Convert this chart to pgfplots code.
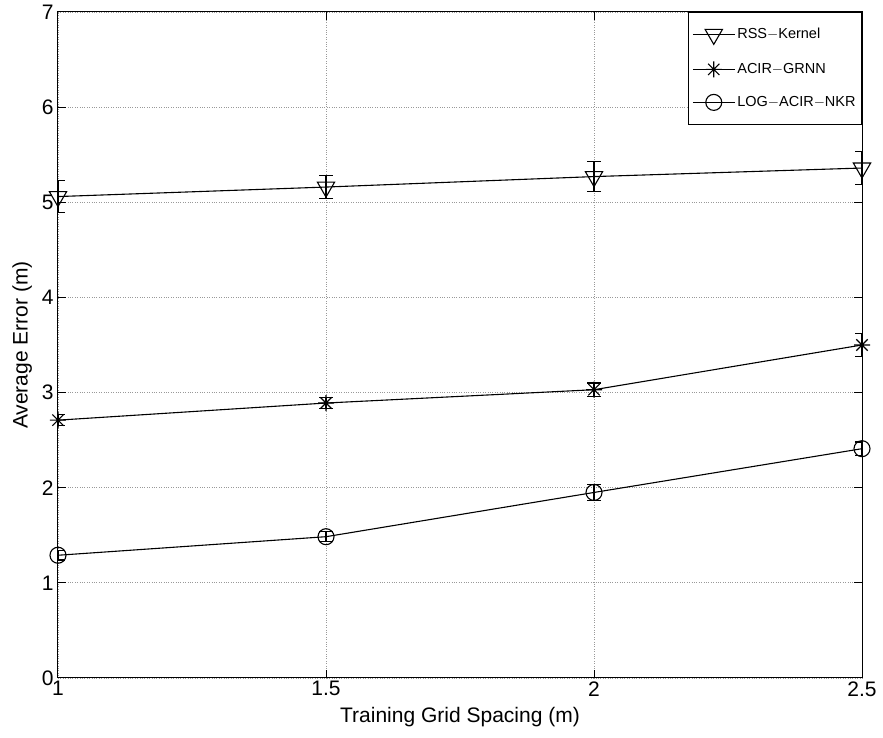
\documentclass[border=0pt]{standalone}
\usepackage{pgfplots}
\pgfplotsset{compat=1.18}
\usepackage{fontspec}
\setmainfont{Liberation Sans}
\pgfdeclareplotmark{mstar}{%
  \pgfpathmoveto{\pgfqpoint{-\pgfplotmarksize}{0pt}}\pgfpathlineto{\pgfqpoint{\pgfplotmarksize}{0pt}}%
  \pgfpathmoveto{\pgfqpoint{0pt}{-\pgfplotmarksize}}\pgfpathlineto{\pgfqpoint{0pt}{\pgfplotmarksize}}%
  \pgfpathmoveto{\pgfqpoint{-0.707\pgfplotmarksize}{-0.707\pgfplotmarksize}}\pgfpathlineto{\pgfqpoint{0.707\pgfplotmarksize}{0.707\pgfplotmarksize}}%
  \pgfpathmoveto{\pgfqpoint{-0.707\pgfplotmarksize}{0.707\pgfplotmarksize}}\pgfpathlineto{\pgfqpoint{0.707\pgfplotmarksize}{-0.707\pgfplotmarksize}}%
  \pgfusepathqstroke}
\begin{document}
\begin{tikzpicture}
\begin{axis}[
  name=ax,
  scale only axis,
  width=804pt, height=666pt,
  xmin=1, xmax=2.5, ymin=0, ymax=7,
  xtick={1,1.5,2,2.5}, ytick={0,1,...,7},
  /pgf/number format/assume math mode=true,
  tick label style={font=\fontsize{21}{24}\selectfont},
  yticklabel style={xshift=-1pt},
  label style={font=\fontsize{21}{24}\selectfont},
  xlabel={Training Grid Spacing (m)},
  ylabel={Average Error (m)},
  xlabel style={yshift=-4pt},
  ylabel style={yshift=3pt},
  grid=major,
  major grid style={dotted, gray!80, line width=0.8pt},
  tick align=inside, tick pos=both,
  major tick length=8pt,
  axis line style={line width=1pt},
  tick style={line width=1pt, black},
  legend style={at={(1,1)}, anchor=north east, font=\fontsize{14.5}{17}\selectfont,
    draw=black, line width=0.8pt, row sep=17pt, inner xsep=4pt, inner ysep=14pt},
  legend cell align=left,
  legend image code/.code={%
    \draw[mark repeat=2,mark phase=2] plot coordinates {(0pt,0pt) (21pt,0pt) (42pt,0pt)};},
  error bars/error bar style={line width=1.1pt},
  error bars/error mark options={rotate=90, mark size=7pt, line width=1.1pt},
]
\addplot[black, line width=1.1pt, mark=triangle, mark size=10pt, mark options={rotate=180, fill=white, line width=1.1pt},
  error bars/.cd, y dir=both, y explicit] coordinates {
  (1,5.06) +- (0,0.17)
  (1.5,5.16) +- (0,0.12)
  (2,5.27) +- (0,0.16)
  (2.5,5.36) +- (0,0.17)
};
\addlegendentry{RSS$-$Kernel}
\addplot[black, line width=1.1pt, mark=mstar, mark size=8pt, mark options={line width=1.1pt},
  error bars/.cd, y dir=both, y explicit] coordinates {
  (1,2.71) +- (0,0.06)
  (1.5,2.89) +- (0,0.06)
  (2,3.03) +- (0,0.07)
  (2.5,3.50) +- (0,0.12)
};
\addlegendentry{ACIR$-$GRNN}
\addplot[black, line width=1.1pt, mark=o, mark size=8pt, mark options={line width=1.1pt, fill=none},
  error bars/.cd, y dir=both, y explicit] coordinates {
  (1,1.29) +- (0,0.05)
  (1.5,1.485) +- (0,0.05)
  (2,1.95) +- (0,0.08)
  (2.5,2.41) +- (0,0.07)
};
\addlegendentry{LOG$-$ACIR$-$NKR}
\end{axis}
\path (ax.south west) ++(-58pt,-60pt) rectangle ([xshift=21pt,yshift=12pt]ax.north east);
\end{tikzpicture}
\end{document}
